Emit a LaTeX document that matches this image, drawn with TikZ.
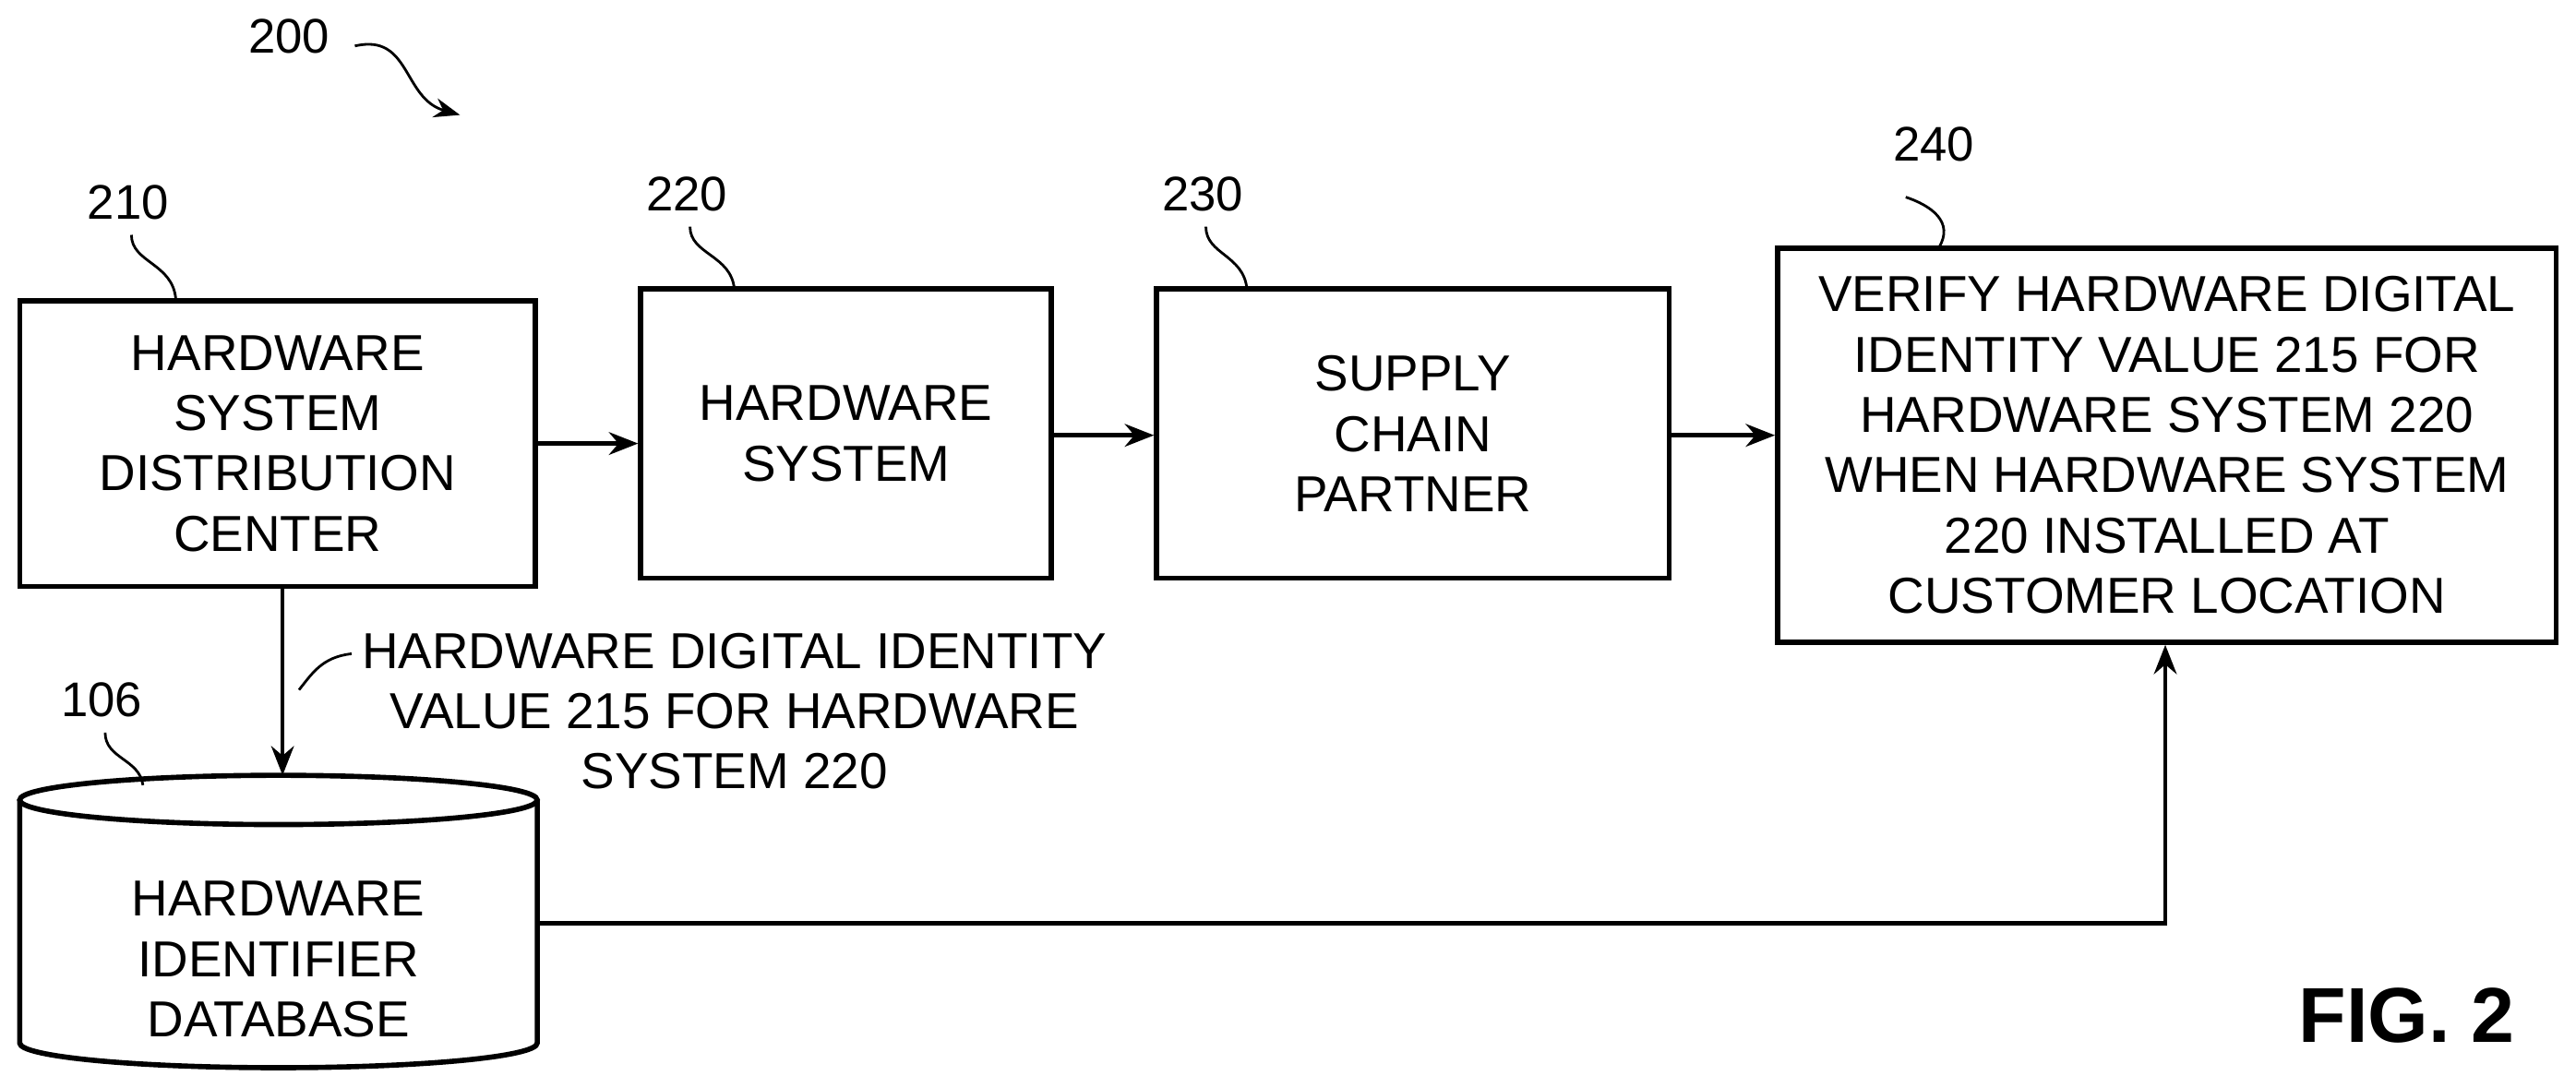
\documentclass[tikz,border=0pt]{standalone}
\usepackage{fontspec}
\setmainfont{Liberation Sans}
\usetikzlibrary{arrows.meta,shapes.geometric}
\begin{document}
\begin{tikzpicture}[x=0.0178cm,y=-0.0178cm,
  box/.style={draw,line width=1.6pt,align=center,inner sep=0pt,font=\fontsize{15.6}{18.6}\selectfont},
  lbl/.style={font=\fontsize{15}{16}\selectfont,inner sep=1pt},
  arr/.style={line width=1.3pt,-{Stealth[length=9pt,width=7pt]}},
  sq/.style={line width=0.8pt}]
\useasboundingbox (0,0) rectangle (1568,662);
\node[box,minimum width=314*0.0178cm,minimum height=174*0.0178cm] (b210) at (169,270) {HARDWARE\\SYSTEM\\DISTRIBUTION\\CENTER};
\node[box,minimum width=250*0.0178cm,minimum height=176*0.0178cm] (b220) at (515,264) {HARDWARE\\SYSTEM};
\node[box,minimum width=312*0.0178cm,minimum height=176*0.0178cm] (b230) at (860,264) {SUPPLY\\CHAIN\\PARTNER};
\node[box,minimum width=474*0.0178cm,minimum height=240*0.0178cm] (b240) at (1319,271) {VERIFY HARDWARE DIGITAL\\IDENTITY VALUE 215 FOR\\HARDWARE SYSTEM 220\\WHEN HARDWARE SYSTEM\\220 INSTALLED AT\\CUSTOMER LOCATION};
% cylinder
\draw[line width=1.6pt] (12,487) -- (12,635) arc[start angle=180,end angle=0,x radius=157.5,y radius=15] -- (327,487);
\draw[line width=1.6pt] (169.5,487) ellipse[x radius=157.5,y radius=15];
\node[box,draw=none] (db) at (169.5,584) {HARDWARE\\IDENTIFIER\\DATABASE};
\coordinate (dbr) at (327,562);
\coordinate (dbt) at (172,472);
\draw[arr] (b210.east |- 0,270) -- (b220.west |- 0,270);
\draw[arr] (b220.east |- 0,265) -- (b230.west |- 0,265);
\draw[arr] (b230.east |- 0,265) -- (b240.west |- 0,265);
\draw[arr] (172,357) -- (dbt);
\draw[arr] (dbr) -- (1318,562) -- (b240.south -| 1318,0);
\node[lbl,align=center,font=\fontsize{15.6}{18.6}\selectfont] (t215) at (447,433) {HARDWARE DIGITAL IDENTITY\\VALUE 215 FOR HARDWARE\\SYSTEM 220};
\draw[sq] (182,420) .. controls (190,410) and (196,400) .. (214,398);
\node[lbl] (n200) at (176,22) {200};
\draw[sq,-{Stealth[length=8pt,width=6pt]}] (216,28) .. controls (250,20) and (245,60) .. (280,70);
\node[lbl] (n210) at (78,123) {210};
\draw[sq] (80,143) .. controls (80,160) and (105,160) .. (107,182);
\node[lbl] (n220) at (418,118) {220};
\draw[sq] (420,138) .. controls (420,155) and (445,155) .. (447,176);
\node[lbl] (n230) at (732,118) {230};
\draw[sq] (734,138) .. controls (734,155) and (757,155) .. (759,176);
\node[lbl] (n240) at (1177,88) {240};
\draw[sq] (1160,120) .. controls (1175,125) and (1190,135) .. (1180,151);
\node[lbl] (n106) at (62,426) {106};
\draw[sq] (64,446) .. controls (64,462) and (85,462) .. (87,478);
\node[font=\fontsize{24}{28}\selectfont\bfseries] (fig) at (1465,618) {FIG. 2};
\end{tikzpicture}
\end{document}
